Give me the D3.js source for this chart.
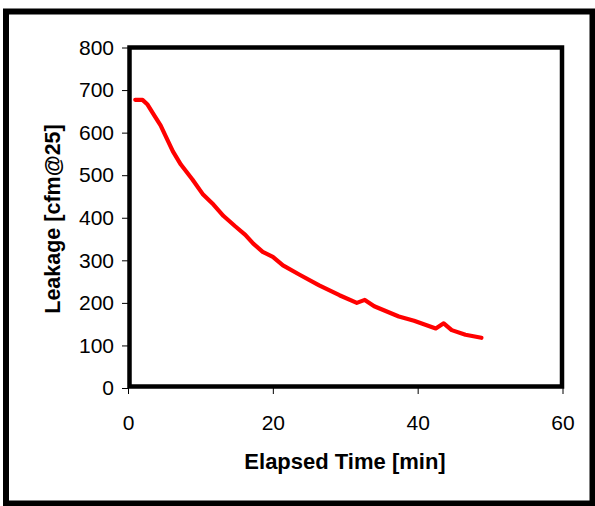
<!DOCTYPE html>
<html>
<head>
<meta charset="utf-8">
<script src="https://cdn.jsdelivr.net/npm/d3@7"></script>
<style>
  body { margin: 0; background: #fff; }
  svg text { font-family: 'Liberation Sans', Arial, sans-serif; fill: #000; }
</style>
</head>
<body>
<div id="chart"></div>
<script>
// leakage readings over the test
var elapsedMin = [1.0, 2.0, 2.7, 3.6, 4.5, 5.2, 6.2, 7.3, 8.9, 10.3, 11.8, 13.2, 14.8, 16.2, 17.3,
	18.6, 20.0, 21.4, 23.7, 26.4, 29.2, 31.6, 32.7, 34.0, 37.4, 39.5, 42.5, 43.6, 44.7, 46.6, 48.8];
var leakageCfm = [677, 677, 666, 641, 617, 592, 556, 525, 490, 456, 431, 404, 380, 360, 339,
	320, 308, 288, 266, 241, 218, 200, 207, 192, 168, 158, 140, 152, 136, 125, 118];
var xTicks = [0, 20, 40, 60];
var yTicks = [0, 100, 200, 300, 400, 500, 600, 700, 800];
var xTitle = 'Elapsed Time [min]';
var yTitle = 'Leakage [cfm@25]';

(function () {
	var width = 595, height = 506;
	var plot = {left: 128, right: 562.5, top: 47.5, bottom: 388};

	var svg = d3.select('#chart')
		.append('svg')
		.attr('width', width)
		.attr('height', height);

	// outer frame
	svg.append('rect')
		.attr('x', 6)
		.attr('y', 11.5)
		.attr('width', 586.5)
		.attr('height', 492)
		.style('fill', '#fff')
		.style('stroke', '#000')
		.style('stroke-width', 6);

	var x = d3.scaleLinear().domain([0, 60]).range([plot.left, plot.right]);
	var y = d3.scaleLinear().domain([0, 800]).range([plot.bottom, plot.top]);

	var xAxis = svg.append('g')
		.attr('transform', 'translate(0,' + plot.bottom + ')')
		.call(d3.axisBottom(x).tickValues(xTicks).tickSize(6).tickPadding(21));
	xAxis.select('.domain').remove();
	xAxis.selectAll('text').style('font-size', '21px');

	var yAxis = svg.append('g')
		.attr('transform', 'translate(' + plot.left + ',0)')
		.call(d3.axisLeft(y).tickValues(yTicks).tickSize(6).tickPadding(8));
	yAxis.select('.domain').remove();
	yAxis.selectAll('text').style('font-size', '21px');

	// plot box
	svg.append('rect')
		.attr('x', x(0) + 1.5)
		.attr('y', y(800))
		.attr('width', x(60) - x(0) - 2)
		.attr('height', y(0) - y(800) - 1.5)
		.style('fill', 'none')
		.style('stroke', '#000')
		.style('stroke-width', 4.5);

	var line = d3.line()
		.x(function(d, i) { return x(elapsedMin[i]); })
		.y(function(d) { return y(d); });

	svg.append('path')
		.datum(leakageCfm)
		.attr('d', line)
		.style('fill', 'none')
		.style('stroke', '#ff0000')
		.style('stroke-width', 4.2)
		.style('stroke-linejoin', 'round')
		.style('stroke-linecap', 'round');

	svg.append('text')
		.attr('x', 345)
		.attr('y', 469)
		.style('text-anchor', 'middle')
		.style('font-size', '22px')
		.style('font-weight', 'bold')
		.text(xTitle);

	svg.append('text')
		.attr('transform', 'translate(60,219) rotate(-90)')
		.style('text-anchor', 'middle')
		.style('font-size', '21.5px')
		.style('font-weight', 'bold')
		.text(yTitle);
})();
</script>
</body>
</html>
